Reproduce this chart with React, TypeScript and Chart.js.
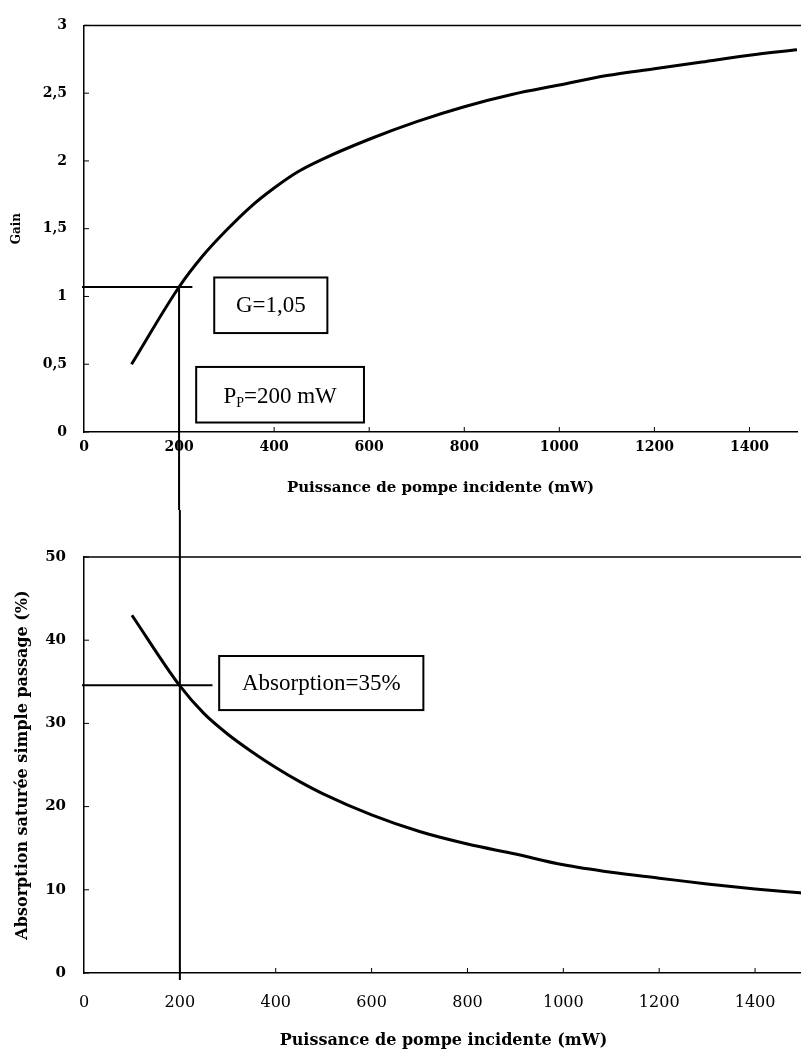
import React, { useEffect, useRef } from 'react';
import { Chart, registerables } from 'chart.js';
Chart.register(...registerables);

// Pump power (mW)
const POWER = [100, 200, 250, 300, 350, 400, 450, 500, 600, 700, 800, 900, 1000, 1100, 1200, 1300, 1400, 1500];
// Gain
const GAIN = [0.5, 1.07, 1.3, 1.49, 1.66, 1.8, 1.92, 2.01, 2.16, 2.29, 2.4, 2.49, 2.56, 2.63, 2.68, 2.73, 2.78, 2.82];
// Saturated single-pass absorption (%)
const ABSORPTION = [43, 34.5, 31.2, 28.7, 26.6, 24.7, 23.0, 21.5, 19.0, 17.0, 15.5, 14.3, 13.0, 12.1, 11.4, 10.7, 10.1, 9.6];

const X_TICKS = [0, 200, 400, 600, 800, 1000, 1200, 1400];
const GAIN_TICKS = [0, 0.5, 1, 1.5, 2, 2.5, 3];
const ABS_TICKS = [0, 10, 20, 30, 40, 50];

const X_TITLE = 'Puissance de pompe incidente (mW)';
const GAIN_TITLE = 'Gain';
const ABS_TITLE = 'Absorption saturée simple passage (%)';

// Operating point annotation
const PP_MARK = 200;
const GAIN_MARK = 1.07;
const ABS_MARK = 34.6;
const GAIN_LABEL = 'G=1,05';
const PP_LABEL = ['P', 'P', '=200 mW'];
const ABS_LABEL = 'Absorption=35%';

const SERIF = '"DejaVu Serif", serif';
const BOX_FONT = '"Liberation Serif", serif';

function drawFrame(chart: any) {
  const { ctx, chartArea: a, scales } = chart;
  const x = scales.x, y = scales.y;
  ctx.save();
  ctx.strokeStyle = '#000';
  ctx.lineWidth = 1.5;
  ctx.beginPath();
  ctx.moveTo(a.left, a.top);
  ctx.lineTo(chart.width, a.top);
  ctx.stroke();
  ctx.lineWidth = 1;
  ctx.beginPath();
  for (const t of y.ticks) {
    const py = y.getPixelForValue(t.value);
    ctx.moveTo(a.left, py);
    ctx.lineTo(a.left + 5, py);
  }
  for (const t of x.ticks) {
    if (t.value === 0) continue;
    const px = x.getPixelForValue(t.value);
    ctx.moveTo(px, a.bottom);
    ctx.lineTo(px, a.bottom - 5);
  }
  ctx.stroke();
  ctx.restore();
}

function drawBox(ctx: CanvasRenderingContext2D, x1: number, y1: number, x2: number, y2: number) {
  ctx.fillStyle = '#fff';
  ctx.fillRect(x1, y1, x2 - x1, y2 - y1);
  ctx.strokeStyle = '#000';
  ctx.lineWidth = 2;
  ctx.strokeRect(x1, y1, x2 - x1, y2 - y1);
}

const topAnnot = {
  id: 'topAnnot',
  afterDraw(chart: any) {
    drawFrame(chart);
    const { ctx, chartArea: a, scales } = chart;
    const x = scales.x, y = scales.y;
    ctx.save();
    ctx.strokeStyle = '#000';
    ctx.lineWidth = 2;
    const gy = y.getPixelForValue(GAIN_MARK);
    const px = x.getPixelForValue(PP_MARK);
    ctx.beginPath();
    ctx.moveTo(a.left - 2, gy);
    ctx.lineTo(x.getPixelForValue(228), gy);
    ctx.moveTo(px, gy);
    ctx.lineTo(px, chart.height);
    ctx.stroke();

    // G box
    const g1x = x.getPixelForValue(274), g2x = x.getPixelForValue(512);
    const g1y = y.getPixelForValue(1.14), g2y = y.getPixelForValue(0.73);
    drawBox(ctx, g1x, g1y, g2x, g2y);
    ctx.fillStyle = '#000';
    ctx.font = '23px ' + BOX_FONT;
    ctx.textAlign = 'center';
    ctx.textBaseline = 'middle';
    ctx.fillText(GAIN_LABEL, (g1x + g2x) / 2, (g1y + g2y) / 2 + 1);

    // Pp box
    const p1x = x.getPixelForValue(236), p2x = x.getPixelForValue(589);
    const p1y = y.getPixelForValue(0.48), p2y = y.getPixelForValue(0.07);
    drawBox(ctx, p1x, p1y, p2x, p2y);
    ctx.fillStyle = '#000';
    ctx.textAlign = 'left';
    ctx.textBaseline = 'alphabetic';
    const big = '23px ' + BOX_FONT, small = '14px ' + BOX_FONT;
    ctx.font = big;
    const w1 = ctx.measureText(PP_LABEL[0]).width;
    const w3 = ctx.measureText(PP_LABEL[2]).width;
    ctx.font = small;
    const w2 = ctx.measureText(PP_LABEL[1]).width;
    let sx = (p1x + p2x) / 2 - (w1 + w2 + w3) / 2;
    const base = (p1y + p2y) / 2 + 8;
    ctx.font = big;
    ctx.fillText(PP_LABEL[0], sx, base);
    sx += w1;
    ctx.font = small;
    ctx.fillText(PP_LABEL[1], sx, base + 4);
    sx += w2;
    ctx.font = big;
    ctx.fillText(PP_LABEL[2], sx, base);
    ctx.restore();
  },
};

const botAnnot = {
  id: 'botAnnot',
  afterDraw(chart: any) {
    drawFrame(chart);
    const { ctx, chartArea: a, scales } = chart;
    const x = scales.x, y = scales.y;
    ctx.save();
    ctx.strokeStyle = '#000';
    ctx.lineWidth = 2;
    const ay = y.getPixelForValue(ABS_MARK);
    const px = x.getPixelForValue(PP_MARK);
    ctx.beginPath();
    ctx.moveTo(a.left - 2, ay);
    ctx.lineTo(x.getPixelForValue(268), ay);
    ctx.moveTo(px, 0);
    ctx.lineTo(px, a.bottom + 7);
    ctx.stroke();

    const b1x = x.getPixelForValue(282), b2x = x.getPixelForValue(708);
    const b1y = y.getPixelForValue(38.1), b2y = y.getPixelForValue(31.6);
    drawBox(ctx, b1x, b1y, b2x, b2y);
    ctx.fillStyle = '#000';
    ctx.font = '23px ' + BOX_FONT;
    ctx.textAlign = 'center';
    ctx.textBaseline = 'middle';
    ctx.fillText(ABS_LABEL, (b1x + b2x) / 2, (b1y + b2y) / 2 + 1);
    ctx.restore();
  },
};

function makeConfig(opts: {
  values: number[];
  yMax: number;
  yTicks: number[];
  yTitle: string;
  yTitleSize: number;
  yTitlePad: number;
  yTickFont: any;
  yTickPad: number;
  yFormat: (v: number) => string;
  xTickFont: any;
  xTickPad: number;
  xTitleSize: number;
  xTitlePad: number;
  xHeight: number;
  padTop: number;
  padRight: number;
  plugin: any;
}) {
  return {
    type: 'line' as const,
    data: {
      datasets: [
        {
          data: POWER.map((p, i) => ({ x: p, y: opts.values[i] })),
          borderColor: '#000',
          borderWidth: 3,
          pointRadius: 0,
          cubicInterpolationMode: 'monotone',
          fill: false,
        },
      ],
    },
    options: {
      animation: false,
      responsive: false,
      layout: { padding: { top: opts.padTop, right: opts.padRight, left: 0, bottom: 0 } },
      plugins: { legend: { display: false }, tooltip: { enabled: false } },
      scales: {
        x: {
          type: 'linear',
          min: 0,
          max: 1500,
          afterBuildTicks: (s: any) => {
            s.ticks = X_TICKS.map((value) => ({ value }));
          },
          afterFit: (s: any) => {
            s.height = opts.xHeight;
          },
          grid: { display: false, drawTicks: false },
          border: { display: true, color: '#000', width: 1.5 },
          ticks: {
            color: '#000',
            font: opts.xTickFont,
            padding: opts.xTickPad,
            maxRotation: 0,
            autoSkip: false,
            callback: (v: any) => String(v),
          },
          title: {
            display: true,
            text: X_TITLE,
            color: '#000',
            font: { family: SERIF, size: opts.xTitleSize, weight: 'bold' },
            padding: { top: 0, bottom: opts.xTitlePad },
          },
        },
        y: {
          type: 'linear',
          min: 0,
          max: opts.yMax,
          afterBuildTicks: (s: any) => {
            s.ticks = opts.yTicks.map((value) => ({ value }));
          },
          afterFit: (s: any) => {
            s.width = 84;
          },
          grid: { display: false, drawTicks: false },
          border: { display: true, color: '#000', width: 1.5 },
          ticks: {
            color: '#000',
            font: opts.yTickFont,
            padding: opts.yTickPad,
            callback: (v: any) => opts.yFormat(Number(v)),
          },
          title: {
            display: true,
            text: opts.yTitle,
            color: '#000',
            font: { family: SERIF, size: opts.yTitleSize, weight: 'bold' },
            padding: { top: opts.yTitlePad, bottom: 0 },
          },
        },
      },
    },
    plugins: [opts.plugin],
  };
}

export default function App() {
  const topRef = useRef<HTMLCanvasElement>(null);
  const botRef = useRef<HTMLCanvasElement>(null);

  useEffect(() => {
    const top = new Chart(
      topRef.current as HTMLCanvasElement,
      makeConfig({
        values: GAIN,
        yMax: 3,
        yTicks: GAIN_TICKS,
        yTitle: GAIN_TITLE,
        yTitleSize: 12,
        yTitlePad: 10,
        yTickFont: { family: SERIF, size: 14, weight: 'bold' },
        yTickPad: 17,
        yFormat: (v) => String(v).replace('.', ','),
        xTickFont: { family: SERIF, size: 14, weight: 'bold' },
        xTickPad: 7,
        xTitleSize: 15,
        xTitlePad: 13,
        xHeight: 78,
        padTop: 17,
        padRight: 4,
        plugin: topAnnot,
      }) as any
    );
    const bot = new Chart(
      botRef.current as HTMLCanvasElement,
      makeConfig({
        values: ABSORPTION,
        yMax: 50,
        yTicks: ABS_TICKS,
        yTitle: ABS_TITLE,
        yTitleSize: 16,
        yTitlePad: 13,
        yTickFont: { family: SERIF, size: 15, weight: 'bold' },
        yTickPad: 18,
        yFormat: (v) => String(v),
        xTickFont: { family: SERIF, size: 16, weight: 'normal' },
        xTickPad: 20,
        xTitleSize: 16,
        xTitlePad: 7,
        xHeight: 84,
        padTop: 47,
        padRight: 3,
        plugin: botAnnot,
      }) as any
    );
    return () => {
      top.destroy();
      bot.destroy();
    };
  }, []);

  return (
    <div style={{ position: 'absolute', left: 0, top: 0, width: 801, height: 1057, overflow: 'hidden', background: '#fff' }}>
      <canvas ref={topRef} width={801} height={510} style={{ position: 'absolute', left: 0, top: 0, display: 'block' }} />
      <canvas ref={botRef} width={806} height={547} style={{ position: 'absolute', left: 0, top: 510, display: 'block' }} />
    </div>
  );
}
